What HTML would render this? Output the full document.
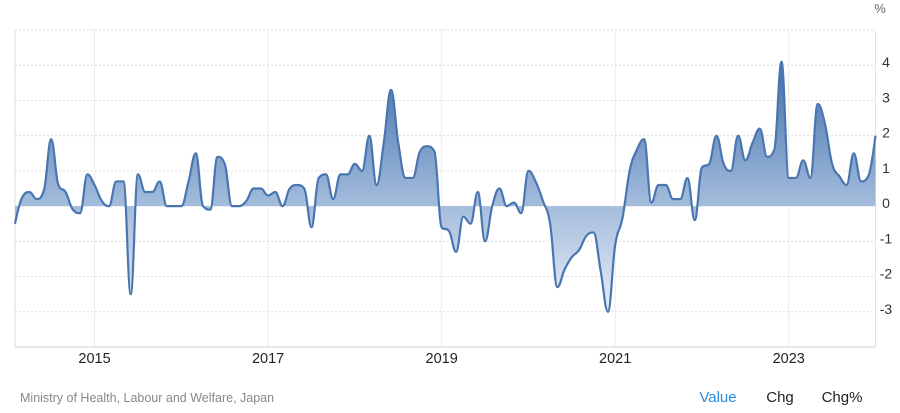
<!DOCTYPE html>
<html><head><meta charset="utf-8"><style>
html,body{margin:0;padding:0;background:#fff;}
body{width:900px;height:413px;overflow:hidden;font-family:"Liberation Sans",Arial,sans-serif;}
</style></head><body>
<svg id="chart" width="900" height="413" xmlns="http://www.w3.org/2000/svg" style="position:absolute;left:0;top:0">
<defs>
<linearGradient id="fillGrad" x1="0" y1="60" x2="0" y2="330" gradientUnits="userSpaceOnUse">
<stop offset="0" stop-color="#3f6eab"/>
<stop offset="0.55" stop-color="#a6bedd"/>
<stop offset="1" stop-color="#f3f6fb"/>
</linearGradient>
</defs>
<g id="grid"></g>
<g id="series"></g>
<g id="labels"></g>
<text x="880" y="13" font-size="13" fill="#666" text-anchor="middle">%</text>
<text x="20" y="402" font-size="12.5" fill="#888">Ministry of Health, Labour and Welfare, Japan</text>
<text x="718" y="402" font-size="15" fill="#2b8ad8" text-anchor="middle">Value</text>
<text x="780" y="402" font-size="15" fill="#222" text-anchor="middle">Chg</text>
<text x="842" y="402" font-size="15" fill="#222" text-anchor="middle">Chg%</text>
</svg>
<script>
const values = [-0.5,0.25,0.4,0.2,0.45,1.9,0.6,0.4,-0.1,-0.2,0.9,0.6,0.15,0,0.7,0.7,-2.5,0.9,0.4,0.4,0.7,0,0,0,0.7,1.5,0,-0.1,1.4,1.2,0,0,0.15,0.5,0.5,0.3,0.4,0,0.5,0.6,0.5,-0.6,0.8,0.9,0.2,0.9,0.9,1.2,1.0,2.0,0.6,1.8,3.3,1.8,0.8,0.8,1.55,1.7,1.55,-0.6,-0.7,-1.3,-0.3,-0.5,0.4,-1.0,0,0.5,0,0.1,-0.2,1.0,0.7,0.15,-0.5,-2.3,-1.8,-1.45,-1.25,-0.85,-0.75,-1.85,-3.0,-1.1,-0.35,1.0,1.6,1.9,0.1,0.6,0.6,0.2,0.2,0.8,-0.4,1.1,1.2,2.0,1.2,1.0,2.0,1.3,1.8,2.2,1.4,1.6,4.1,0.8,0.8,1.3,0.8,2.9,2.35,1.2,0.85,0.6,1.5,0.7,0.85,2.0];
const startYear = 2014, startMonth = 1; // Feb 2014 (0-based month)
const yTicks = [4,3,2,1,0,-1,-2,-3];
const xTickYears = [2015,2017,2019,2021,2023];
const NS = "http://www.w3.org/2000/svg";
const L = 15, R = 875.5, TOP = 30, BOT = 347;
const yMax = 5, yMin = -4;
const ySc = v => TOP + (yMax - v) / (yMax - yMin) * (BOT - TOP);
const monthIdx = (y, m) => (y - startYear) * 12 + (m - startMonth);
const xSc = i => L + i * (R - L) / (values.length - 1);
function mk(tag, attrs, parent){const e=document.createElementNS(NS,tag);for(const k in attrs)e.setAttribute(k,attrs[k]);parent.appendChild(e);return e;}
const grid = document.getElementById('grid'), lab = document.getElementById('labels'), ser = document.getElementById('series');
yTicks.concat([5]).forEach(t=>{
  const y = ySc(t);
  const ln = mk('line',{x1:L,x2:R,y1:y,y2:y,stroke:'#dcdcdc','stroke-dasharray':'2,2','stroke-width':1},grid);
  
  
});
yTicks.forEach(t=>{
  const tx = mk('text',{x:886,y:ySc(t)+2,'font-size':14,fill:'#333','text-anchor':'middle'},lab);
  tx.textContent = String(t);
  
  
});
xTickYears.forEach(yr=>{
  const x = xSc(monthIdx(yr,0));
  const ln = mk('line',{x1:x,x2:x,y1:TOP,y2:BOT,stroke:'#ececec','stroke-width':1},grid);
  
  
  const tx = mk('text',{x:x,y:363,'font-size':14.5,fill:'#222','text-anchor':'middle'},lab);
  tx.textContent = String(yr);
  
  
});
const lb = mk('line',{x1:L,x2:L,y1:TOP,y2:BOT,stroke:'#dcdcdc','stroke-width':1},grid);


const rb = mk('line',{x1:R,x2:R,y1:TOP,y2:BOT,stroke:'#e4e4e4','stroke-width':1},grid);


const xa = mk('line',{x1:L,x2:R,y1:BOT,y2:BOT,stroke:'#d8d8d8','stroke-width':1.2},grid);


const pts = values.map((v,i)=>[xSc(i),ySc(v)]);
function splinePath(p){
  const s=1.5; let d='M'+p[0][0]+','+p[0][1];
  const cps=[];
  for(let i=0;i<p.length;i++){
    if(i===0||i===p.length-1){cps.push(null);continue;}
    const [px,py]=p[i-1],[x,y]=p[i],[nx,ny]=p[i+1];
    let lx=(s*x+px)/(s+1), ly=(s*y+py)/(s+1), rx=(s*x+nx)/(s+1), ry=(s*y+ny)/(s+1);
    const corr = ((ry-ly)*(rx-x))/(rx-lx)+y-ry;
    ly+=corr; ry+=corr;
    if(ly>py&&ly>y){ly=Math.max(py,y);ry=2*y-ly;}else if(ly<py&&ly<y){ly=Math.min(py,y);ry=2*y-ly;}
    if(ry>ny&&ry>y){ry=Math.max(ny,y);ly=2*y-ry;}else if(ry<ny&&ry<y){ry=Math.min(ny,y);ly=2*y-ry;}
    cps.push({l:[lx,ly],r:[rx,ry]});
  }
  for(let i=1;i<p.length;i++){
    const a = cps[i-1]?cps[i-1].r:p[i-1];
    const b = cps[i]?cps[i].l:p[i];
    d+=' C'+a[0]+','+a[1]+' '+b[0]+','+b[1]+' '+p[i][0]+','+p[i][1];
  }
  return d;
}
const lineD = splinePath(pts);
const y0 = ySc(0);
const area = mk('path',{d:lineD+' L'+pts[pts.length-1][0]+','+y0+' L'+pts[0][0]+','+y0+' Z',fill:'url(#fillGrad)',stroke:'none'},ser);


const line = mk('path',{d:lineD,fill:'none',stroke:'#4a76b0','stroke-width':2.2,'stroke-linejoin':'round'},ser);


</script>
</body></html>
